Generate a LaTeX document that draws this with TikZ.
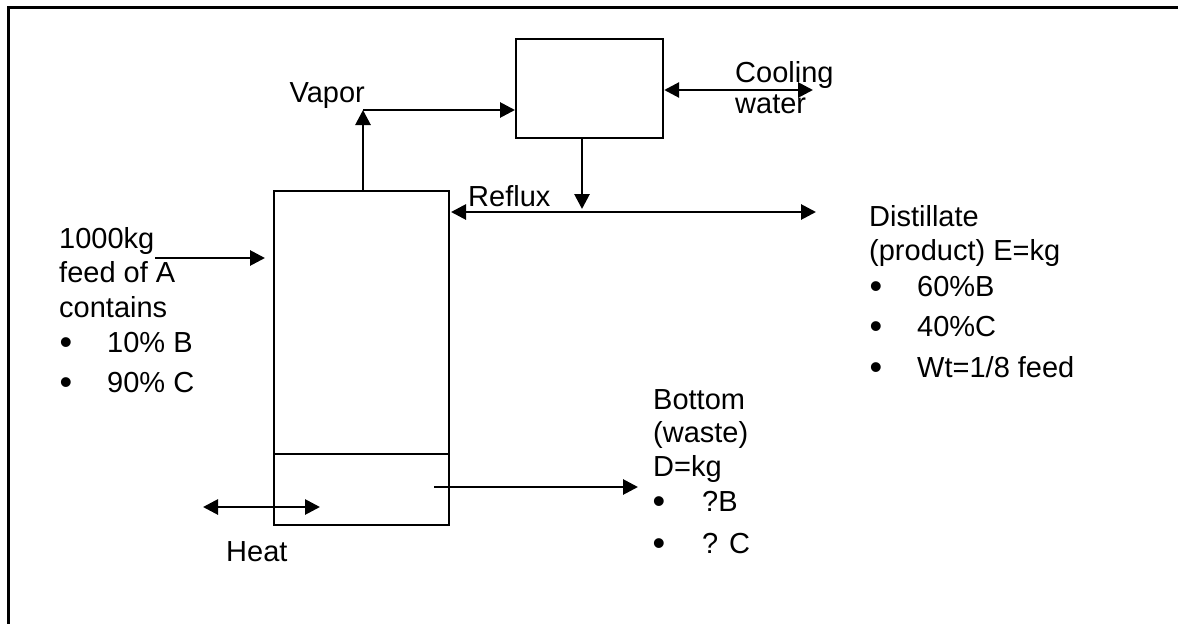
\documentclass[tikz,border=0pt]{standalone}
\usepackage{fontspec}
\setmainfont{Liberation Sans}
\usetikzlibrary{arrows.meta}
\tikzset{
  tip/.tip={Triangle[length=15pt,width=15pt]},
  arr/.style={line width=2.8pt,-tip},
  darr/.style={line width=2.8pt,tip-tip},
  box/.style={draw,line width=2.2pt,inner sep=0pt},
  txt/.style={anchor=base west,inner sep=0pt,font=\fontsize{29}{34}\selectfont},
  txtr/.style={anchor=base east,inner sep=0pt,font=\fontsize{29}{34}\selectfont},
  bul/.style={anchor=base,inner sep=0pt,font=\fontsize{36}{34}\selectfont},
}
\begin{document}
\begin{tikzpicture}[x=1pt,y=-1pt]
\useasboundingbox (0,0) rectangle (1178,624);
% frame
\draw[line width=3pt] (1178,7) -- (8,7) -- (8,624);
% column and condenser
\node[box,minimum width=175pt,minimum height=334pt,anchor=north west] (col) at (273,190) {};
\coordinate (sumpL) at (273,454);
\coordinate (sumpR) at (448,454);
\draw[line width=2.2pt] (sumpL) -- (sumpR);
\node[box,minimum width=147pt,minimum height=99pt,anchor=north west] (cond) at (515,38) {};
% coordinates
\coordinate (vtop) at (363,110);
\coordinate (cwR) at (813,90);
\coordinate (rfx) at (582,209);
\coordinate (rfL) at (451,212);
\coordinate (rfR) at (816,212);
\coordinate (feedS) at (155,258);
\coordinate (feedE) at (265,258);
\coordinate (botS) at (434,487);
\coordinate (botE) at (638,487);
\coordinate (heatL) at (203,507);
\coordinate (heatR) at (320,507);
% connectors
\draw[arr] (col.north -| vtop) -- (vtop);
\draw[arr] (vtop) -- (cond.west |- vtop);
\draw[darr] (cond.east |- cwR) -- (cwR);
\draw[arr] (cond.south -| rfx) -- (rfx);
\draw[darr] (rfL) -- (rfR);
\draw[arr] (feedS) -- (feedE);
\draw[arr] (botS) -- (botE);
\draw[darr] (heatL) -- (heatR);
% labels
\node[txtr] (vapor) at (365,102) {Vapor};
\node[txt] (cool1) at (735,82) {Cooling};
\node[txt] (cool2) at (735,113) {water};
\node[txt] (reflux) at (468,206) {Reflux};
\node[txt] (f1) at (59,248) {1000kg};
\node[txt] (f2) at (59,282) {feed of A};
\node[txt] (f3) at (59,317) {contains};
\node[bul] (fb1) at (66,354) {\textbullet};
\node[txt] (f4) at (107,352) {10\% B};
\node[bul] (fb2) at (66,394) {\textbullet};
\node[txt] (f5) at (107,392) {90\% C};
\node[txt] (d1) at (869,226) {Distillate};
\node[txt] (d2) at (869,260) {(product) E=kg};
\node[bul] (db1) at (876,298) {\textbullet};
\node[txt] (d3) at (917,296) {60\%B};
\node[bul] (db2) at (876,338) {\textbullet};
\node[txt] (d4) at (917,336) {40\%C};
\node[bul] (db3) at (876,379) {\textbullet};
\node[txt] (d5) at (917,377) {Wt=1/8 feed};
\node[txt] (b1) at (653,409) {Bottom};
\node[txt] (b2) at (653,442) {(waste)};
\node[txt] (b3) at (653,476) {D=kg};
\node[bul] (bb1) at (659,513) {\textbullet};
\node[txt] (b4) at (702,511) {?B};
\node[bul] (bb2) at (659,555) {\textbullet};
\node[txt] (b5) at (702,553) {? C};
\node[txt] (heat) at (226,561) {Heat};
\end{tikzpicture}
\end{document}
